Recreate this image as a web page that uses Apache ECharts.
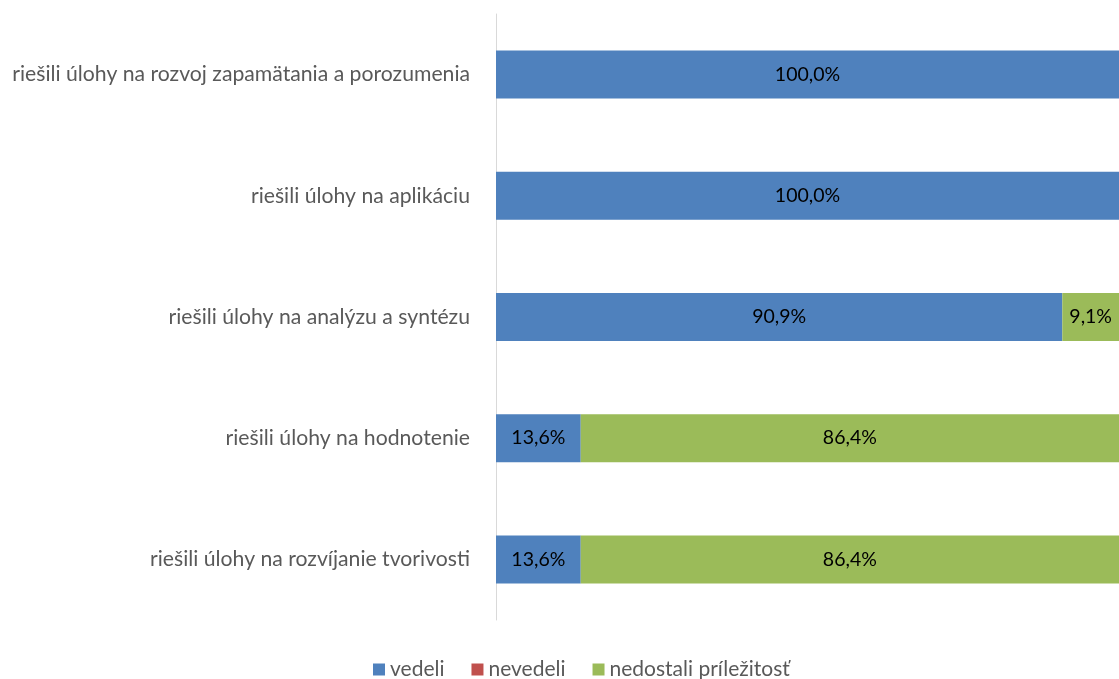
<!DOCTYPE html>
<html>
<head>
<meta charset="utf-8">
<script src="https://cdn.jsdelivr.net/npm/echarts@6/dist/echarts.min.js"></script>
<style>
  html, body { margin: 0; padding: 0; background: #fff; }
  #chart { width: 1119px; height: 679px; }
</style>
</head>
<body>
<div id="chart"></div>
<script>
// kategórie (zhora nadol)
const categories = [
    'riešili úlohy na rozvoj zapamätania a porozumenia',
    'riešili úlohy na aplikáciu',
    'riešili úlohy na analýzu a syntézu',
    'riešili úlohy na hodnotenie',
    'riešili úlohy na rozvíjanie tvorivosti'
];
const vedeli = [100, 100, 90.9, 13.6, 13.6];
const nevedeli = [0, 0, 0, 0, 0];
const nedostali = [0, 0, 9.1, 86.4, 86.4];

const FONT = 'Lato, "Liberation Sans", sans-serif';

const fmt = p => p.value > 0 ? p.value.toFixed(1).replace('.', ',') + '%' : '';

function mkSeries(name, data, color) {
    return {
        name, type: 'bar', stack: 'all', data,
        barWidth: 48,
        itemStyle: { color },
        label: { show: true, position: 'inside', color: '#000', fontSize: 19.5, fontFamily: FONT, formatter: fmt }
    };
}

const chart = echarts.init(document.getElementById('chart'));
chart.setOption({
    backgroundColor: '#fff',
    animation: false,
    grid: { left: 496, right: 0, top: 14, bottom: 59 },
    legend: {
        top: 654, left: 368,
        itemWidth: 12, itemHeight: 12, itemGap: 27, itemStyle: { borderWidth: 0 },
        icon: 'rect',
        textStyle: { color: '#595959', fontSize: 21, fontFamily: FONT },
        data: ['vedeli', 'nevedeli', 'nedostali príležitosť']
    },
    xAxis: { type: 'value', min: 0, max: 100, show: false },
    yAxis: {
        type: 'category', data: categories, inverse: true,
        axisLine: { show: true, lineStyle: { color: '#d9d9d9', width: 1 } },
        axisTick: { show: false },
        axisLabel: { color: '#595959', fontSize: 21.2, fontFamily: FONT, margin: 26 }
    },
    series: [
        mkSeries('vedeli', vedeli, '#4f81bd'),
        mkSeries('nevedeli', nevedeli, '#c0504d'),
        mkSeries('nedostali príležitosť', nedostali, '#9bbb59')
    ]
});
</script>
</body>
</html>
